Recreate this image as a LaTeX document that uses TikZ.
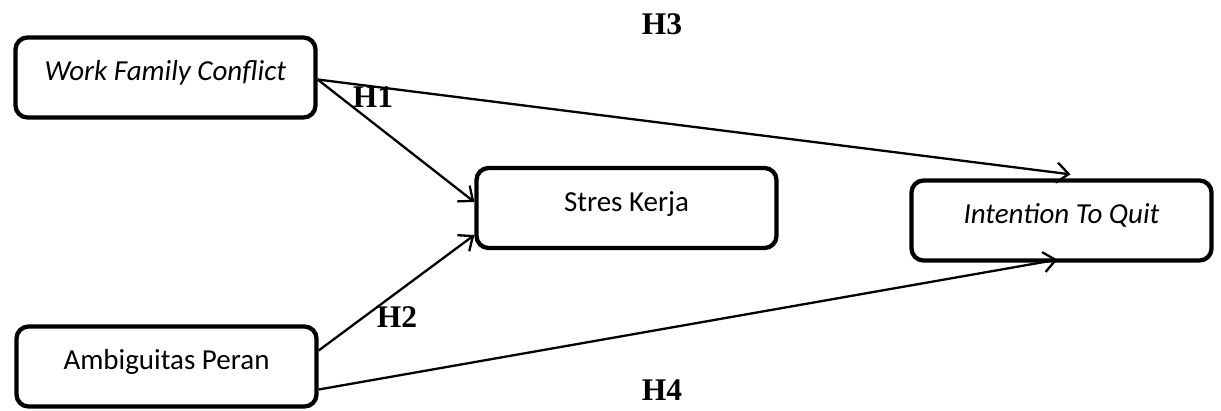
\documentclass[tikz,border=0pt]{standalone}
\usepackage{fontspec}
\setmainfont{Carlito}
\newfontfamily\hypfont{Liberation Serif}
\usepackage{tikz}
\usetikzlibrary{arrows.meta}
\tikzstyle{varbox} = [rectangle,rounded corners=12pt,minimum width=300pt,minimum height=80pt,inner sep=0pt,text height=20pt,text depth=14pt,text centered,draw=black,line width=4.3pt,font=\fontsize{29}{32}\selectfont]
\tikzstyle{hyp} = [inner sep=0pt,font=\hypfont\bfseries\fontsize{31.5}{34}\selectfont]
\tikzstyle{arrow} = [line width=2.3pt,-{Straight Barb[length=12pt,width=20pt]}]

\begin{document}
\begin{tikzpicture}[x=1pt,y=-1pt]
\useasboundingbox (0,0) rectangle (1221,410);
\node (wfc) [varbox] at (165.5,77.5) {\itshape Work Family Conflict};
\node (sk) [varbox] at (626.5,208) {Stres Kerja};
\node (itq) [varbox] at (1061.5,220.5) {\itshape Intention To Quit};
\node (ap) [varbox] at (166.5,366.5) {Ambiguitas Peran};

\node (h1) [hyp] at (373,97) {H1};
\node (h2) [hyp] at (397,317) {H2};
\node (h3) [hyp] at (662,24) {H3};
\node (h4) [hyp] at (662,390) {H4};

\draw [arrow] ([yshift=-2pt]wfc.east) -- ([yshift=6pt]sk.west);
\draw [arrow] ([yshift=-2pt]wfc.east) -- ([xshift=9pt,yshift=4pt]itq.north);
\draw [arrow] ([yshift=16pt]ap.east) -- ([yshift=-27pt]sk.west);
\draw [arrow] ([yshift=-23pt]ap.east) -- ([xshift=-4pt,yshift=3pt]itq.south);
\end{tikzpicture}
\end{document}
